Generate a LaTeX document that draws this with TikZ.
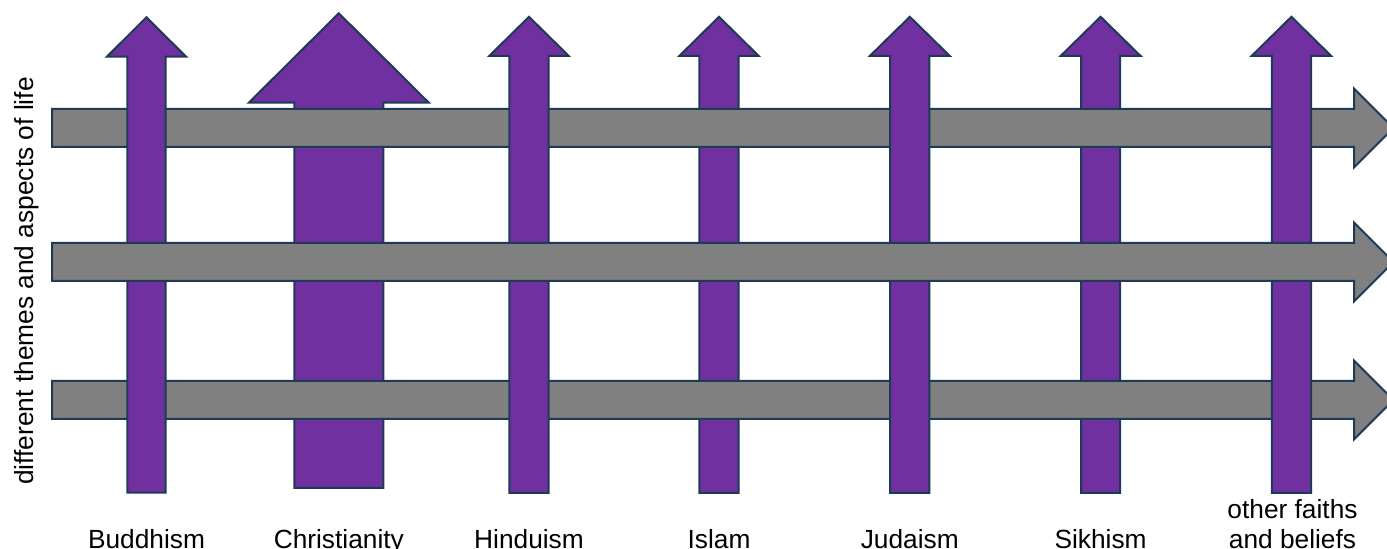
\documentclass[tikz,border=0pt]{standalone}
\usepackage{fontspec}
\setmainfont{Liberation Sans}
\definecolor{faith}{HTML}{7030A0}
\definecolor{theme}{HTML}{808080}
\definecolor{edge}{HTML}{1F3A56}
\begin{document}
\begin{tikzpicture}[x=0.5pt,y=-0.5pt,
  outl/.style={draw=edge,line width=1pt,line join=miter},
  faithbox/.style={outl,fill=faith},
  themebox/.style={outl,fill=theme},
  lbl/.style={inner sep=0pt,anchor=base,text=black,font=\fontsize{13.15}{15}\selectfont,align=center}]
\useasboundingbox (0,0) rectangle (1387,549);
% up arrow: #1 cx, #2 half shaft, #3 half head, #4 tip y, #5 head base y, #6 bottom y
\newcommand\uparr[6]{%
  \draw[faithbox] (#1-#2,#6) -- (#1-#2,#5) -- (#1-#3,#5) -- (#1,#4) -- (#1+#3,#5) -- (#1+#2,#5) -- (#1+#2,#6) -- cycle;}
% right arrow: #1 centre y
\newcommand\rtarr[1]{%
  \draw[themebox] (52,#1-19) -- (1354,#1-19) -- (1354,#1-39.5) -- (1393.5,#1) -- (1354,#1+39.5) -- (1354,#1+19) -- (52,#1+19) -- cycle;}
% faiths that pass under every theme
\uparr{338.8}{44.5}{90}{13.3}{102.7}{488}
\uparr{719}{19.7}{39.7}{16.8}{56}{492.8}
\uparr{1100.6}{19.6}{40}{16.8}{56}{492.8}
% first and third themes
\rtarr{128}
\rtarr{400}
% faiths that pass over the first and third themes
\uparr{146.5}{19.2}{39.6}{17.3}{56.7}{492.7}
\uparr{529}{19.7}{39.8}{16.8}{56}{492.8}
\uparr{909.8}{19.6}{40}{16.8}{56}{492.8}
\uparr{1291.4}{19.6}{39.8}{16.8}{56}{492.8}
% second theme over all faiths
\rtarr{262}
% labels
\node[lbl] (bud) at (146.5,549) {Buddhism};
\node[lbl] (chr) at (338.8,549) {Christianity};
\node[lbl] (hin) at (529,549) {Hinduism};
\node[lbl] (isl) at (719,549) {Islam};
\node[lbl] (jud) at (909.8,549) {Judaism};
\node[lbl] (sik) at (1100.6,549) {Sikhism};
\node[lbl,anchor=base] (oth) at (1292.5,519) {other faiths};
\node[lbl,anchor=base] (oth2) at (1292.5,549) {and beliefs};
\node[lbl,rotate=90] (themes) at (33.5,281) {different themes and aspects of life};
\end{tikzpicture}
\end{document}
